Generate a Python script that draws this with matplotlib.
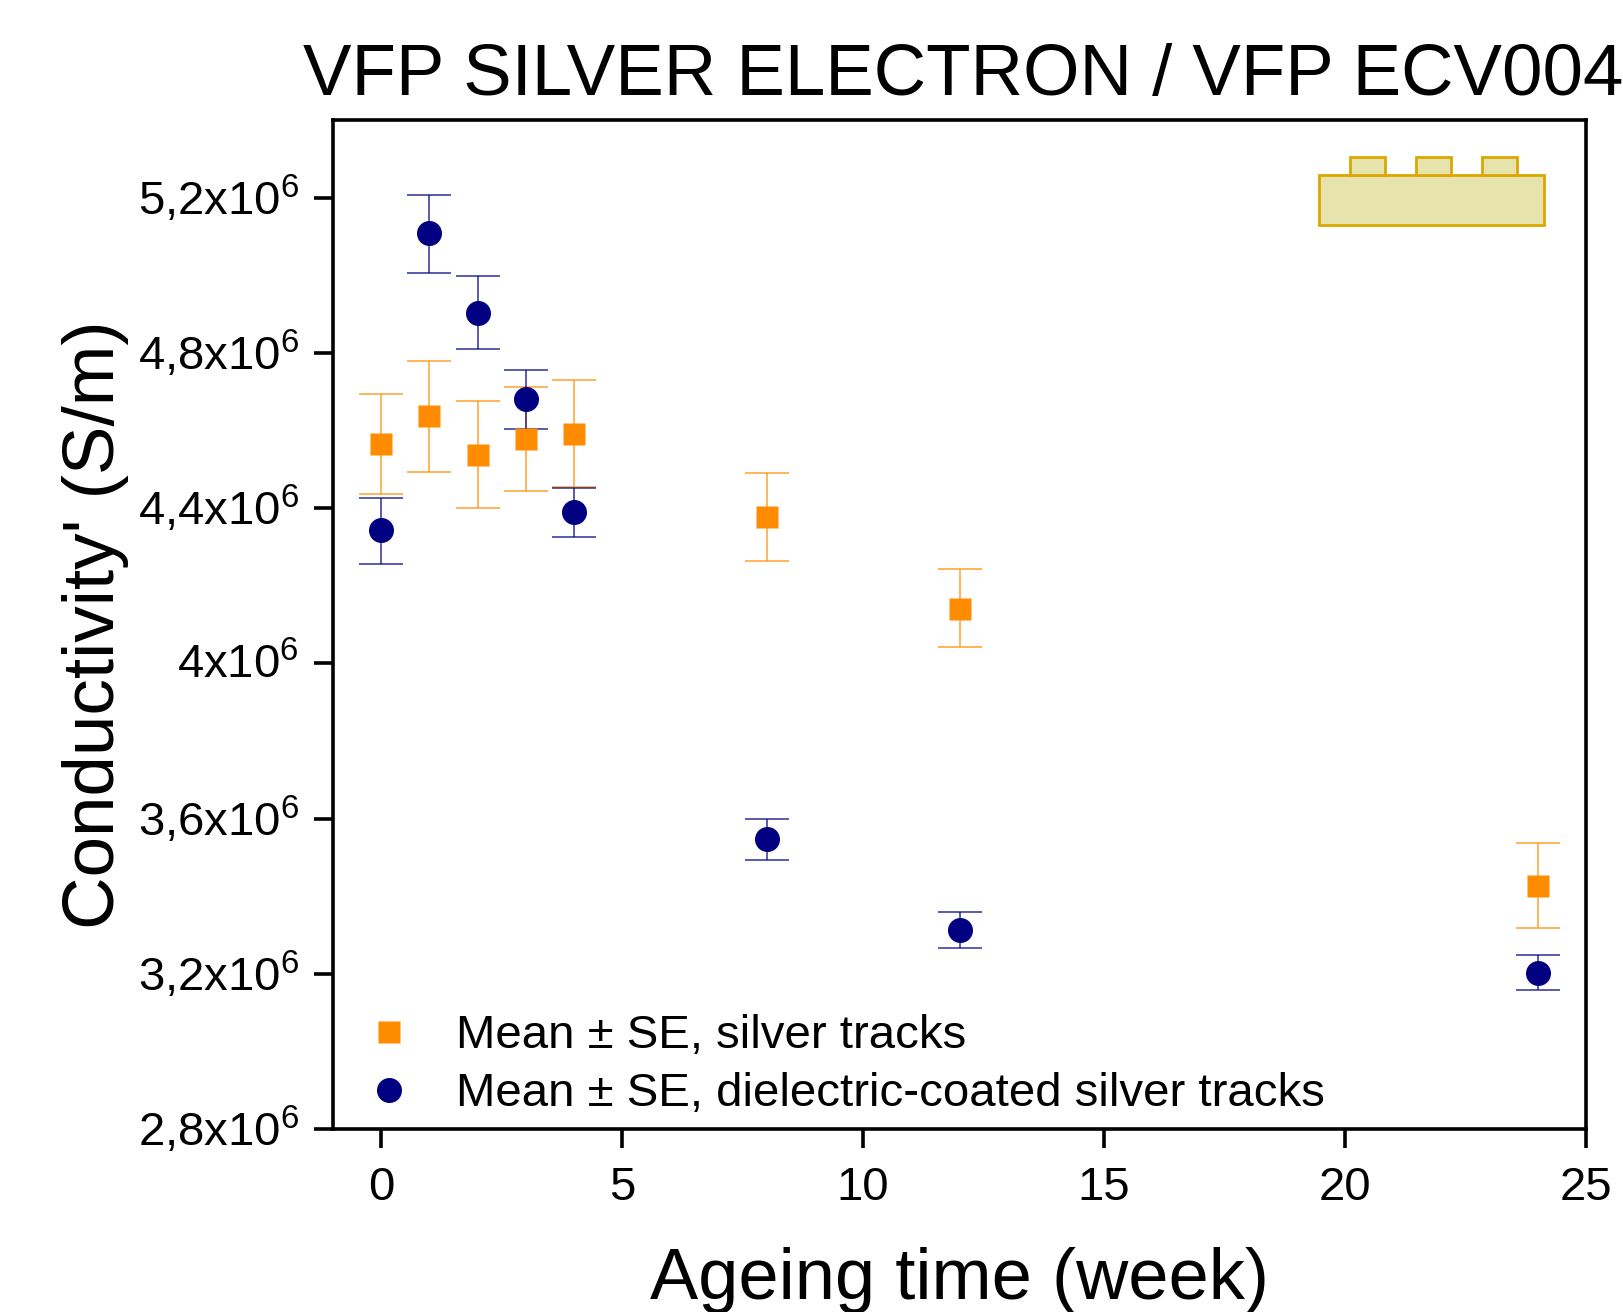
import matplotlib
matplotlib.use("Agg")
import matplotlib.pyplot as plt
from matplotlib.patches import Rectangle
from matplotlib.transforms import ScaledTranslation
import numpy as np

plt.rcParams['font.family'] = ['Liberation Sans', 'DejaVu Sans']
plt.rcParams['mathtext.default'] = 'regular'
plt.rcParams['mathtext.fontset'] = 'custom'
plt.rcParams['mathtext.rm'] = 'Liberation Sans'

weeks = [0, 1, 2, 3, 4, 8, 12, 24]

# silver tracks
silver_mean = [4.564e6, 4.636e6, 4.538e6, 4.579e6, 4.591e6, 4.376e6, 4.141e6, 3.427e6]
silver_upper = [4.694e6, 4.780e6, 4.677e6, 4.713e6, 4.729e6, 4.490e6, 4.242e6, 3.536e6]
silver_lower = [4.435e6, 4.493e6, 4.400e6, 4.443e6, 4.454e6, 4.264e6, 4.042e6, 3.317e6]

# dielectric-coated silver tracks
coated_mean = [4.343e6, 5.108e6, 4.903e6, 4.681e6, 4.390e6, 3.546e6, 3.312e6, 3.203e6]
coated_upper = [4.427e6, 5.208e6, 4.998e6, 4.756e6, 4.452e6, 3.600e6, 3.360e6, 3.248e6]
coated_lower = [4.256e6, 5.007e6, 4.810e6, 4.605e6, 4.326e6, 3.493e6, 3.267e6, 3.158e6]

x_ticks = [0, 5, 10, 15, 20, 25]
y_ticks = [2.8e6, 3.2e6, 3.6e6, 4.0e6, 4.4e6, 4.8e6, 5.2e6]
y_tick_labels = ['2,8x10$^{6}$', '3,2x10$^{6}$', '3,6x10$^{6}$', '4x10$^{6}$',
                 '4,4x10$^{6}$', '4,8x10$^{6}$', '5,2x10$^{6}$']

ORANGE = '#FF8C00'
NAVY = '#000080'
GOLD = '#DBA800'
KHAKI = '#E6E4AC'

W, H = 1624, 1312
fig = plt.figure(figsize=(W / 100, H / 100), dpi=100)
ax = fig.add_axes([333 / W, 1 - 1129 / H, 1253 / W, 1009 / H])


def draw_series(mean, lower, upper, color, marker, size, label):
    mean = np.array(mean)
    err = [mean - np.array(lower), np.array(upper) - mean]
    ax.errorbar(weeks, mean, yerr=err, fmt='none', ecolor=color, elinewidth=1.2,
                capsize=16, capthick=1.2, alpha=0.75, zorder=2)
    ax.plot(weeks, mean, ls='none', marker=marker, ms=size, color=color, mec='none',
            label=label, zorder=3)


draw_series(silver_mean, silver_lower, silver_upper, ORANGE, 's', 16.5,
            'Mean ± SE, silver tracks')
draw_series(coated_mean, coated_lower, coated_upper, NAVY, 'o', 18,
            'Mean ± SE, dielectric-coated silver tracks')

ax.set_xlim(-1, 25)
ax.set_ylim(2.8e6, 5.4e6)
ax.set_xticks(x_ticks)
ax.set_yticks(y_ticks)
ax.set_yticklabels(y_tick_labels)
ax.tick_params(length=14, width=2.6, labelsize=34)
ax.tick_params(axis='x', pad=13)
ax.tick_params(axis='y', pad=10.5)
for spine in ax.spines.values():
    spine.set_linewidth(2.6)

# nudge y tick labels up a little
for lab in ax.get_yticklabels():
    lab.set_transform(lab.get_transform() + ScaledTranslation(0, 2 / 72, fig.dpi_scale_trans))

ax.set_xlabel('Ageing time (week)', fontsize=52, labelpad=26)
ax.set_ylabel("Conductivity' (S/m)", fontsize=52.5, labelpad=6)
fig.text(303 / W, 1 - 95 / H, 'VFP SILVER ELECTRON / VFP ECV004', fontsize=52.3, ha='left', va='baseline')

ax.legend(loc='lower left', bbox_to_anchor=(0.0165, 0.0125), frameon=False, fontsize=34.1,
          labelspacing=0.30, handletextpad=0.66, borderaxespad=0, borderpad=0,
          numpoints=1, handlelength=1.5)

# sample sketch, top right
sketch = [(0.7870, 0.8960, 0.1795, 0.0495),
          (0.8118, 0.9455, 0.0279, 0.0178),
          (0.8644, 0.9455, 0.0279, 0.0178),
          (0.9170, 0.9455, 0.0279, 0.0178)]
for x0, y0, w, h in sketch:
    ax.add_patch(Rectangle((x0, y0), w, h, transform=ax.transAxes, fc=KHAKI, ec=GOLD, lw=2.0, zorder=4))

fig.savefig('out.png', dpi=100)
